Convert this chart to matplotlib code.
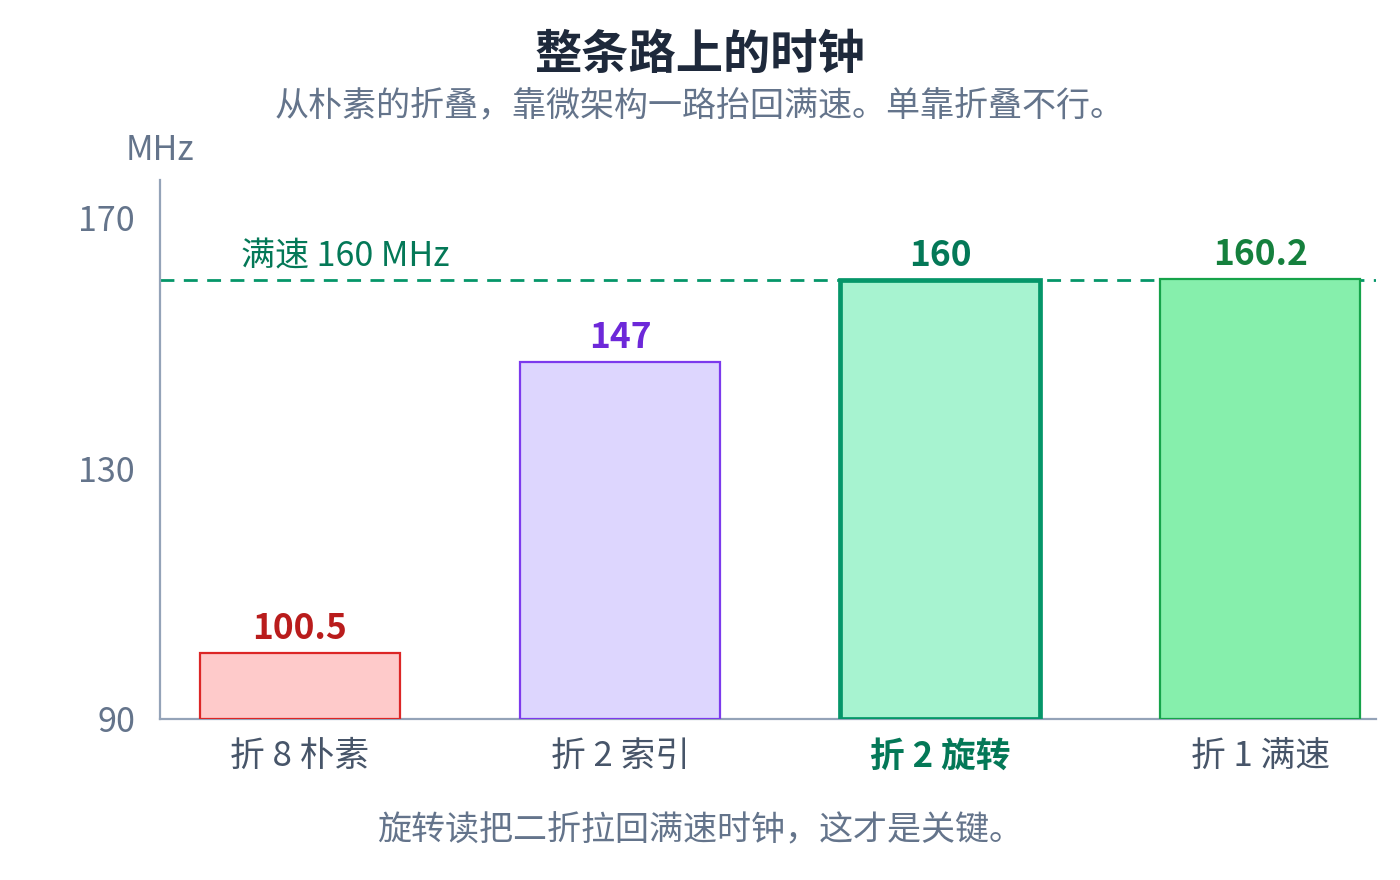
import matplotlib
matplotlib.use("Agg")
import matplotlib.pyplot as plt

plt.rcParams['font.family'] = ['Noto Sans CJK SC', 'DejaVu Sans']

# data
categories = ["折 8 朴素", "折 2 索引", "折 2 旋转", "折 1 满速"]
values = [100.5, 147, 160, 160.2]
value_labels = ["100.5", "147", "160", "160.2"]
full_speed = 160
yticks = [90, 130, 170]
highlight = 2

fills = ["#fecaca", "#ddd6fe", "#a7f3d0", "#86efac"]
edges = ["#dc2626", "#7c3aed", "#059669", "#16a34a"]
label_colors = ["#b91c1c", "#6d28d9", "#047857", "#15803d"]

fig = plt.figure(figsize=(14, 8.8), dpi=100)
ax = fig.add_axes([0.1143, 0.183, 0.983 - 0.1143, 0.7955 - 0.183])

x = list(range(len(categories)))
for i, v in enumerate(values):
    lw = 3.4 if i == highlight else 1.6
    ax.bar(x[i], v - yticks[0], bottom=yticks[0], width=0.625,
           color=fills[i], edgecolor=edges[i], linewidth=lw, zorder=3)
    ax.annotate(value_labels[i], (x[i], v), xytext=(0, 5),
                textcoords="offset points", ha="center", va="bottom",
                fontsize=25.5, fontweight="bold", color=label_colors[i])

# full speed reference line
ax.axhline(full_speed, color="#059669", linewidth=2,
           dashes=(5, 3.4), zorder=2)
ax.annotate("满速 160 MHz", (-0.185, full_speed), xytext=(0, 4),
            textcoords="offset points", ha="left", va="bottom",
            fontsize=24.5, color="#047857")

ax.set_xlim(-0.4375, 3.3625)
ax.set_ylim(90, 176)
ax.set_yticks(yticks)
ax.set_yticklabels([str(t) for t in yticks])
ax.set_xticks(x)
ax.set_xticklabels(categories)
ax.tick_params(length=0, labelsize=24.5, labelcolor="#64748b")
ax.tick_params(axis="y", pad=18)
ax.tick_params(axis="x", labelcolor="#475569", labelsize=25, pad=14)
for i, lab in enumerate(ax.get_xticklabels()):
    if i == highlight:
        lab.set_fontweight("bold")
        lab.set_color("#047857")

for side in ("top", "right"):
    ax.spines[side].set_visible(False)
for side in ("left", "bottom"):
    ax.spines[side].set_color("#94a3b8")
    ax.spines[side].set_linewidth(1.6)

fig.text(0.5, 0.938, "整条路上的时钟", ha="center", va="center",
         fontsize=34, fontweight="bold", color="#1e293b")
fig.text(0.5, 0.879, "从朴素的折叠，靠微架构一路抬回满速。单靠折叠不行。",
         ha="center", va="center", fontsize=24.5, color="#64748b")
fig.text(0.1143, 0.829, "MHz", ha="center", va="center",
         fontsize=24.5, color="#64748b")
fig.text(0.5, 0.056, "旋转读把二折拉回满速时钟，这才是关键。",
         ha="center", va="center", fontsize=24.5, color="#64748b")

fig.savefig("out.png", dpi=100)
